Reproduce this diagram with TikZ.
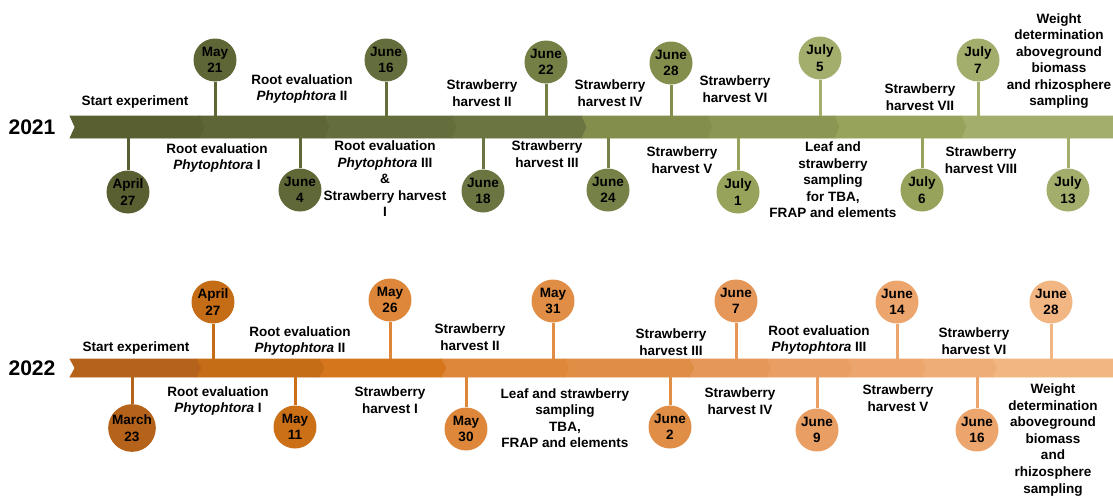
\documentclass[tikz,border=0pt]{standalone}
\usepackage{fontspec}
\setmainfont{Liberation Sans}
\definecolor{olA}{HTML}{5A5F32}
\definecolor{olB}{HTML}{5E6636}
\definecolor{olC}{HTML}{646E3C}
\definecolor{olD}{HTML}{6A7542}
\definecolor{olE}{HTML}{838E4C}
\definecolor{olF}{HTML}{8A9651}
\definecolor{olG}{HTML}{97A35A}
\definecolor{olH}{HTML}{A3AD6C}
\definecolor{orA}{HTML}{B5621B}
\definecolor{orB}{HTML}{C56C16}
\definecolor{orC}{HTML}{D6761C}
\definecolor{orD}{HTML}{DE873A}
\definecolor{orE}{HTML}{E08E46}
\definecolor{orF}{HTML}{E5975A}
\definecolor{orG}{HTML}{E99F64}
\definecolor{orH}{HTML}{ECA66D}
\definecolor{orI}{HTML}{EEAD77}
\definecolor{orJ}{HTML}{F2B683}

\begin{document}
\begin{tikzpicture}[x=0.02cm, y=-0.02cm,
				datecirc/.style={circle, inner sep=0pt, minimum size=0.86cm, align=center, font=\fontsize{7.7}{9.4}\selectfont\bfseries},
				event/.style={inner sep=0pt, align=center, font=\fontsize{7.7}{9.4}\selectfont\bfseries},
				year/.style={inner sep=0pt, font=\fontsize{12}{14}\selectfont\bfseries},
				stem/.style={line width=0.06cm},
				seg/.style={draw=white, line width=0.4pt}]
				\useasboundingbox (0,0) rectangle (1113,495);
				
				% 2021
				\node[year](y21) at (32,127) {2021};
				\fill[seg, olA] (70,116) -- (200,116) -- (205,127) -- (200,138) -- (70,138) -- (75,127) -- cycle;
				\fill[seg, olB] (200,116) -- (325,116) -- (330,127) -- (325,138) -- (200,138) -- (205,127) -- cycle;
				\fill[seg, olC] (325,116) -- (452,116) -- (457,127) -- (452,138) -- (325,138) -- (330,127) -- cycle;
				\fill[seg, olD] (452,116) -- (582,116) -- (587,127) -- (582,138) -- (452,138) -- (457,127) -- cycle;
				\fill[seg, olE] (582,116) -- (708,116) -- (713,127) -- (708,138) -- (582,138) -- (587,127) -- cycle;
				\fill[seg, olF] (708,116) -- (835,116) -- (840,127) -- (835,138) -- (708,138) -- (713,127) -- cycle;
				\fill[seg, olG] (835,116) -- (962,116) -- (967,127) -- (962,138) -- (835,138) -- (840,127) -- cycle;
				\fill[seg, olH] (962,116) -- (1120,116) -- (1120,138) -- (962,138) -- (967,127) -- cycle;
				\coordinate (top21) at (0,116);
				\coordinate (bot21) at (0,138);
				
				\node[datecirc, fill=olB](may21) at (215,60) {May\\21};
				\node[datecirc, fill=olC](jun16) at (386,60) {June\\16};
				\node[datecirc, fill=olD!60!olE](jun22) at (546,62) {June\\22};
				\node[datecirc, fill=olE](jun28) at (671,63) {June\\28};
				\node[datecirc, fill=olH](jul5) at (820,58) {July\\5};
				\node[datecirc, fill=olH](jul7) at (978,60) {July\\7};
				
				\node[datecirc, fill=olA](apr27) at (128,192) {April\\27};
				\node[datecirc, fill=olB!70!olC](jun4) at (300,190) {June\\4};
				\node[datecirc, fill=olD](jun18) at (483,191) {June\\18};
				\node[datecirc, fill=olD!50!olE](jun24) at (608,190) {June\\24};
				\node[datecirc, fill=olG](jul1) at (738,192) {July\\1};
				\node[datecirc, fill=olG](jul6) at (922,190) {July\\6};
				\node[datecirc, fill=olH](jul13) at (1068,190) {July\\13};
				
				\draw[stem, olB] (may21) -- (may21 |- top21);
				\draw[stem, olC] (jun16) -- (jun16 |- top21);
				\draw[stem, olD!60!olE] (jun22) -- (jun22 |- top21);
				\draw[stem, olE] (jun28) -- (jun28 |- top21);
				\draw[stem, olH] (jul5) -- (jul5 |- top21);
				\draw[stem, olH] (jul7) -- (jul7 |- top21);
				\draw[stem, olA] (apr27) -- (apr27 |- bot21);
				\draw[stem, olB!70!olC] (jun4) -- (jun4 |- bot21);
				\draw[stem, olD] (jun18) -- (jun18 |- bot21);
				\draw[stem, olD!50!olE] (jun24) -- (jun24 |- bot21);
				\draw[stem, olG] (jul1) -- (jul1 |- bot21);
				\draw[stem, olG] (jul6) -- (jul6 |- bot21);
				\draw[stem, olH] (jul13) -- (jul13 |- bot21);
				
				\node[event](start21) at (135,102) {Start experiment};
				\node[event](rootII21) at (302,89) {Root evaluation\\\textit{Phytophtora} II};
				\node[event](harvII21) at (482,93) {Strawberry\\harvest II};
				\node[event](harvIV21) at (610,93) {Strawberry\\harvest IV};
				\node[event](harvVI21) at (735,89) {Strawberry\\harvest VI};
				\node[event](harvVII21) at (920,97) {Strawberry\\harvest VII};
				\node[event](weight21) at (1059,61) {Weight\\determination\\aboveground\\biomass\\and rhizosphere\\sampling};
				\node[event](rootI21) at (217,158) {Root evaluation\\\textit{Phytophtora} I};
				\node[event](rootIII21) at (385,179) {Root evaluation\\\textit{Phytophtora} III\\\&\\Strawberry harvest\\I};
				\node[event](harvIII21) at (547,154) {Strawberry\\harvest III};
				\node[event](harvV21) at (682,160) {Strawberry\\harvest V};
				\node[event](leaf21) at (833,180) {Leaf and\\strawberry\\sampling\\for TBA,\\FRAP and elements};
				\node[event](harvVIII21) at (981,160) {Strawberry\\harvest VIII};
				
				% 2022
				\node[year](y22) at (32,368) {2022};
				\fill[seg, orA] (70,359) -- (197,359) -- (202,368) -- (197,377) -- (70,377) -- (75,368) -- cycle;
				\fill[seg, orB] (197,359) -- (320,359) -- (325,368) -- (320,377) -- (197,377) -- (202,368) -- cycle;
				\fill[seg, orC] (320,359) -- (442,359) -- (447,368) -- (442,377) -- (320,377) -- (325,368) -- cycle;
				\fill[seg, orD] (442,359) -- (565,359) -- (570,368) -- (565,377) -- (442,377) -- (447,368) -- cycle;
				\fill[seg, orE] (565,359) -- (690,359) -- (695,368) -- (690,377) -- (565,377) -- (570,368) -- cycle;
				\fill[seg, orF] (690,359) -- (767,359) -- (772,368) -- (767,377) -- (690,377) -- (695,368) -- cycle;
				\fill[seg, orG] (767,359) -- (848,359) -- (853,368) -- (848,377) -- (767,377) -- (772,368) -- cycle;
				\fill[seg, orH] (848,359) -- (922,359) -- (927,368) -- (922,377) -- (848,377) -- (853,368) -- cycle;
				\fill[seg, orI] (922,359) -- (993,359) -- (998,368) -- (993,377) -- (922,377) -- (927,368) -- cycle;
				\fill[seg, orJ] (993,359) -- (1120,359) -- (1120,377) -- (993,377) -- (998,368) -- cycle;
				\coordinate (top22) at (0,359);
				\coordinate (bot22) at (0,377);
				
				\node[datecirc, fill=orB](apr27b) at (213,302) {April\\27};
				\node[datecirc, fill=orD](may26) at (390,300) {May\\26};
				\node[datecirc, fill=orE](may31) at (553,301) {May\\31};
				\node[datecirc, fill=orF](jun7) at (736,301) {June\\7};
				\node[datecirc, fill=orH](jun14) at (897,302) {June\\14};
				\node[datecirc, fill=orJ](jun28b) at (1051,302) {June\\28};
				
				\node[datecirc, fill=orA](mar23) at (132,428) {March\\23};
				\node[datecirc, fill=orB!60!orC](may11) at (295,427) {May\\11};
				\node[datecirc, fill=orD](may30) at (466,429) {May\\30};
				\node[datecirc, fill=orE](jun2) at (670,427) {June\\2};
				\node[datecirc, fill=orG](jun9) at (817,430) {June\\9};
				\node[datecirc, fill=orH](jun16b) at (977,430) {June\\16};
				
				\draw[stem, orB] (apr27b) -- (apr27b |- top22);
				\draw[stem, orD] (may26) -- (may26 |- top22);
				\draw[stem, orE] (may31) -- (may31 |- top22);
				\draw[stem, orF] (jun7) -- (jun7 |- top22);
				\draw[stem, orH] (jun14) -- (jun14 |- top22);
				\draw[stem, orJ] (jun28b) -- (jun28b |- top22);
				\draw[stem, orA] (mar23) -- (mar23 |- bot22);
				\draw[stem, orB!60!orC] (may11) -- (may11 |- bot22);
				\draw[stem, orD] (may30) -- (may30 |- bot22);
				\draw[stem, orE] (jun2) -- (jun2 |- bot22);
				\draw[stem, orG] (jun9) -- (jun9 |- bot22);
				\draw[stem, orH] (jun16b) -- (jun16b |- bot22);
				
				\node[event](start22) at (136,348) {Start experiment};
				\node[event](rootII22) at (300,341) {Root evaluation\\\textit{Phytophtora} II};
				\node[event](harvII22) at (470,337) {Strawberry\\harvest II};
				\node[event](harvIII22) at (671,342) {Strawberry\\harvest III};
				\node[event](rootIII22) at (819,340) {Root evaluation\\\textit{Phytophtora} III};
				\node[event](harvVI22) at (974,341) {Strawberry\\harvest VI};
				\node[event](rootI22) at (218,401) {Root evaluation\\\textit{Phytophtora} I};
				\node[event](harvI22) at (390,400) {Strawberry\\harvest I};
				\node[event](leaf22) at (565,418) {Leaf and strawberry\\sampling\\TBA,\\FRAP and elements};
				\node[event](harvIV22) at (740,401) {Strawberry\\harvest IV};
				\node[event](harvV22) at (898,398) {Strawberry\\harvest V};
				\node[event](weight22) at (1053,440) {Weight\\determination\\aboveground\\biomass\\and\\rhizosphere\\sampling};
			\end{tikzpicture}
\end{document}
